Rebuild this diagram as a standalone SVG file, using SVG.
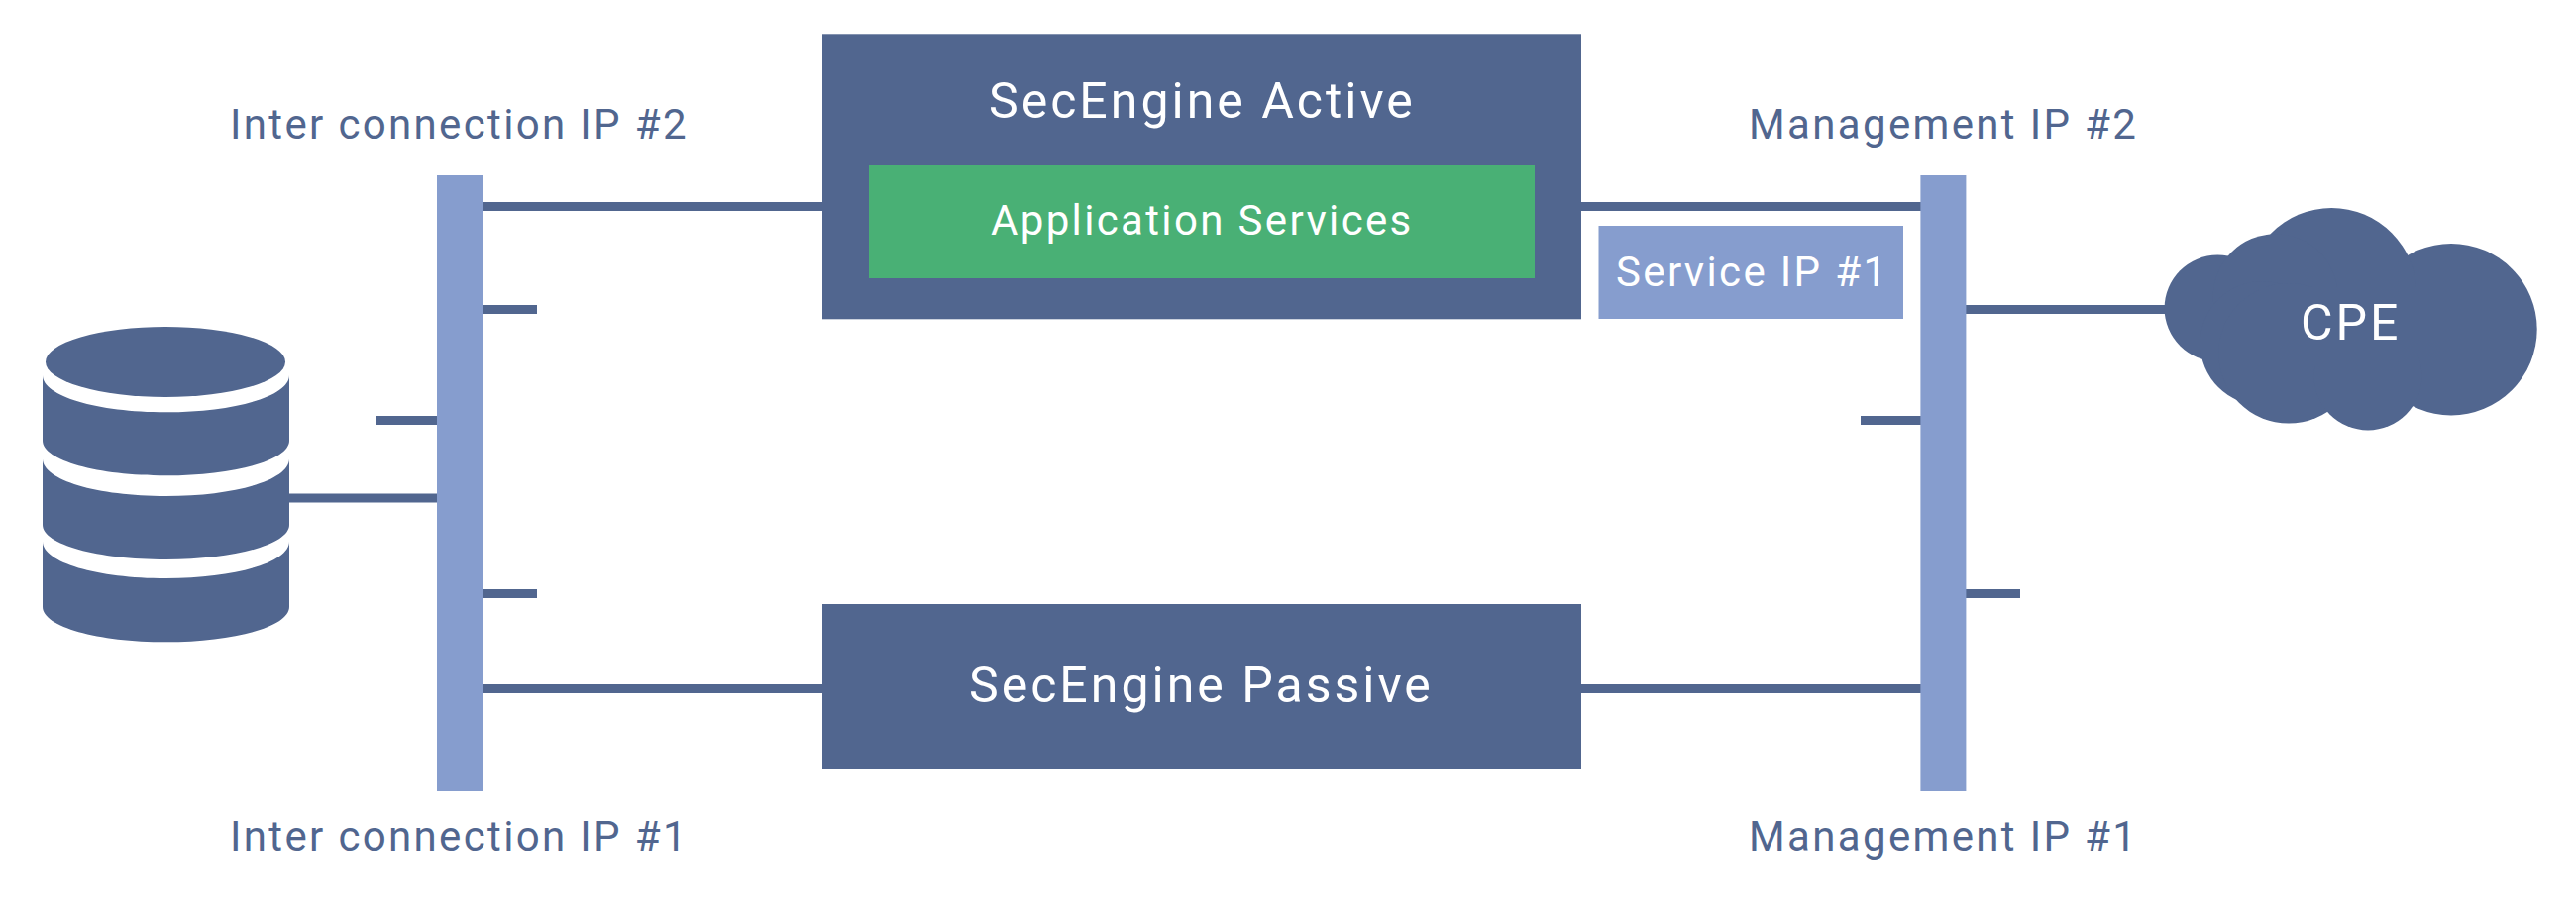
<svg xmlns="http://www.w3.org/2000/svg" width="2600" height="921" viewBox="0 0 2600 921">
<style>
.d{fill:#51668f}.b{fill:#869dce}.g{fill:#49b075}
text{font-family:Roboto,"Liberation Sans",sans-serif;font-weight:400}
.w{fill:#fff}.l{fill:#51668f;font-size:42px;letter-spacing:2.35px}
.xl{font-size:50px;letter-spacing:3px}.m{font-size:42px;letter-spacing:2.35px}
</style>
<rect width="2600" height="921" fill="#fff"/>
<g id="connectors" class="d">
<rect x="487" y="204" width="343" height="9"/>
<rect x="1596" y="204" width="343" height="9"/>
<rect x="487" y="308" width="55" height="9"/>
<rect x="380" y="420" width="61" height="9"/>
<rect x="291" y="498.5" width="150" height="9"/>
<rect x="487" y="595" width="55" height="9"/>
<rect x="487" y="691" width="343" height="9"/>
<rect x="1596" y="691" width="343" height="9"/>
<rect x="1984" y="308" width="205" height="9"/>
<rect x="1878" y="420" width="61" height="9"/>
<rect x="1984" y="595" width="55" height="9"/>
</g>
<g id="bar-left"><rect class="b" x="441" y="177" width="46" height="622"/></g>
<g id="bar-right"><rect class="b" x="1938.4" y="177" width="46" height="622"/></g>
<g id="database" class="d">
<ellipse cx="167" cy="365.5" rx="121" ry="35.5"/>
<path d="M43 379C43 400 98 416.3 167.5 416.3S292 400 292 379V445C292 465 236 480.3 167.5 480.3S43 465 43 445Z"/>
<path d="M43 463.3C43 485 98 501 167.5 501S292 485 292 463.3V530C292 550 236 565 167.5 565S43 550 43 530Z"/>
<path d="M43 546.7C43 568 98 584 167.5 584S292 568 292 546.7V612.7C292 633 236 648.3 167.5 648.3S43 633 43 612.7Z"/>
</g>
<g id="active">
<rect class="d" x="830" y="34.3" width="766" height="288"/>
<text class="w xl" x="998" y="119">SecEngine Active</text>
</g>
<g id="app-services">
<rect class="g" x="877" y="167" width="672" height="114"/>
<text class="w m" x="1000" y="236.5">Application Services</text>
</g>
<g id="passive">
<rect class="d" x="830" y="610" width="766" height="167"/>
<text class="w xl" x="978" y="709">SecEngine Passive</text>
</g>
<g id="service-ip">
<rect class="b" x="1613.5" y="228" width="307.5" height="94"/>
<text class="w m" x="1631" y="289">Service IP #1</text>
</g>
<g id="cloud" class="d">
<circle cx="2474" cy="332.7" r="86.7"/>
<circle cx="2353.3" cy="295.8" r="85.8"/>
<circle cx="2238.3" cy="311.3" r="53.7"/>
<circle cx="2296.7" cy="299.3" r="63"/>
<circle cx="2283.3" cy="346.7" r="62.7"/>
<circle cx="2310" cy="356.8" r="70.8"/>
<circle cx="2390" cy="380" r="54.5"/>
<rect x="2280" y="290" width="160" height="80"/>
<text class="w xl" x="2322" y="342.7" style="fill:#fff">CPE</text>
</g>
<g id="labels">
<text class="l" x="232" y="140">Inter connection IP #2</text>
<text class="l" x="1765" y="140">Management IP #2</text>
<text class="l" x="232" y="859">Inter connection IP #1</text>
<text class="l" x="1765" y="859">Management IP #1</text>
</g>
</svg>
